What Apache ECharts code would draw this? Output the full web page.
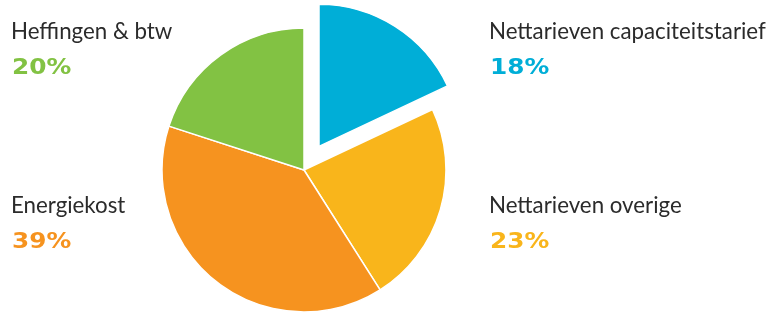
<!DOCTYPE html>
<html>
<head>
<meta charset="utf-8">
<script src="https://cdn.jsdelivr.net/npm/echarts@6/dist/echarts.min.js"></script>
<style>
  html, body { margin: 0; padding: 0; background: #fff; }
  #chart { width: 773px; height: 314px; }
</style>
</head>
<body>
<div id="chart"></div>
<script>
// kostenopbouw, met de klok mee vanaf boven
var categories = ['Nettarieven capaciteitstarief', 'Nettarieven overige', 'Energiekost', 'Heffingen & btw'];
var values = [18, 23, 39, 20];
var colors = ['#00aed7', '#f9b51b', '#f6931f', '#82c243'];
var exploded = [true, false, false, false];

// plek van elk labelblok: linkerrand + midden van de eerste regel
var labelPos = [
    { x: 489, y: 32 },
    { x: 489, y: 206 },
    { x: 11, y: 206 },
    { x: 11, y: 32 }
];

var chart = echarts.init(document.getElementById('chart'));

var labels = [];
categories.forEach(function (name, i) {
    var pos = labelPos[i];
    labels.push({
        type: 'text',
        x: pos.x,
        y: pos.y,
        silent: true,
        style: {
            text: name,
            font: '22.3px Lato',
            fill: '#2b2b2b',
            align: 'left',
            verticalAlign: 'middle'
        }
    });
    labels.push({
        type: 'text',
        x: pos.x + 1,
        y: pos.y + 37,
        scaleX: 1.18,
        silent: true,
        style: {
            text: values[i] + '%',
            font: 'bold 21px "DejaVu Sans"',
            fill: colors[i],
            align: 'left',
            verticalAlign: 'middle'
        }
    });
});

chart.setOption({
    animation: false,
    graphic: labels,
    series: [{
        type: 'pie',
        center: [304, 170],
        radius: 142,
        startAngle: 90,
        clockwise: true,
        selectedMode: 'single',
        selectedOffset: 28,
        itemStyle: { borderColor: '#fff', borderWidth: 1.5 },
        emphasis: { disabled: true },
        label: { show: false },
        labelLine: { show: false },
        data: categories.map(function (name, i) {
            return { name: name, value: values[i], selected: exploded[i], itemStyle: { color: colors[i] } };
        })
    }]
});

window.addEventListener('resize', function () { chart.resize(); });
</script>
</body>
</html>
